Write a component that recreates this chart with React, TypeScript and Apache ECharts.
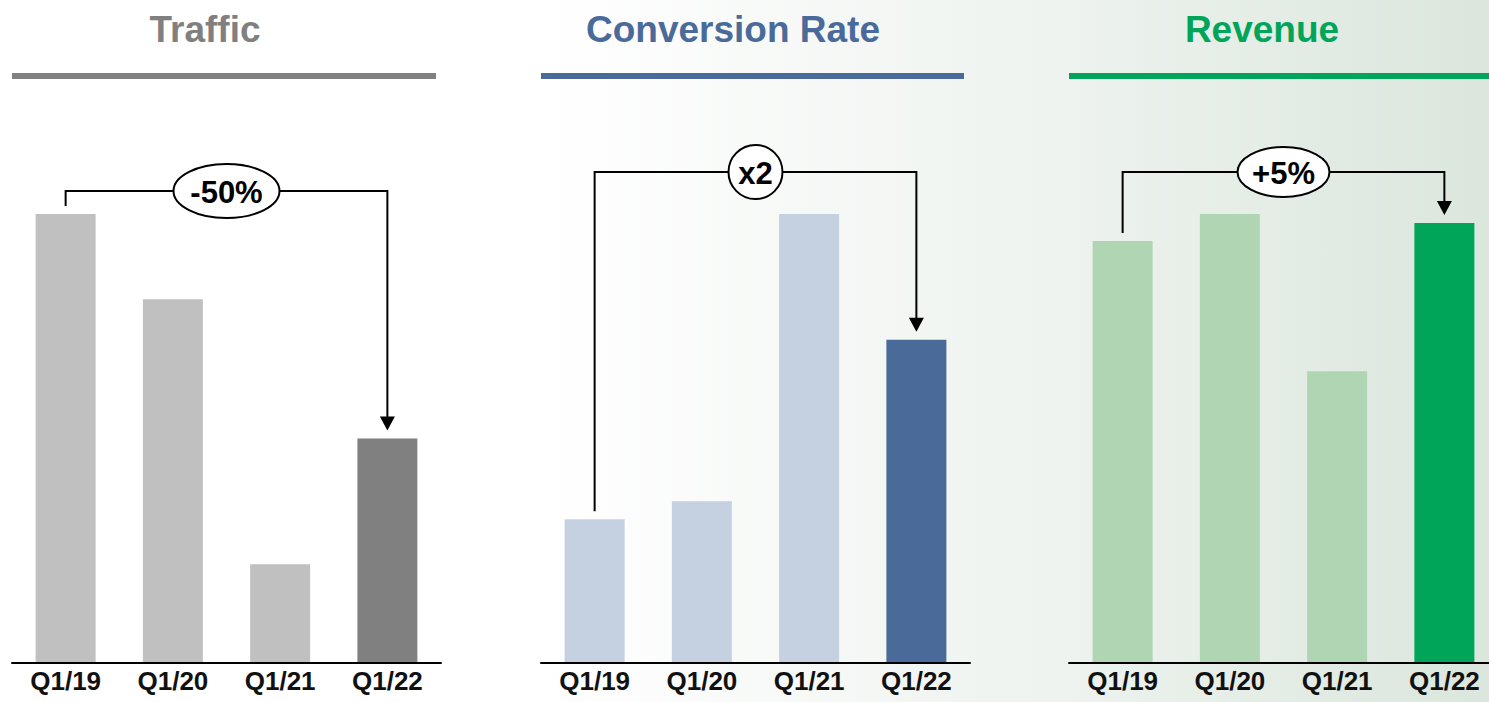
import React, { useEffect, useRef } from "react";
import * as echarts from "echarts";

// Quarter categories shared by all three panels
const quarters = ["Q1/19", "Q1/20", "Q1/21", "Q1/22"];

// Indexed values per panel (largest bar of each panel = 100)
const trafficValues = [100, 81, 22, 50];
const conversionValues = [32, 36, 100, 72];
const revenueValues = [94, 100, 65, 98];

const panelTitles = ["Traffic", "Conversion Rate", "Revenue"];
const changeLabels = ["-50%", "x2", "+5%"];

const FONT = "'Liberation Sans', Arial, Helvetica, sans-serif";

export default function App() {
  const ref = useRef<HTMLDivElement>(null);

  useEffect(() => {
    const el = ref.current;
    if (!el) return;
    const chart = echarts.init(el, null, { renderer: "svg" });

    const W = 1500;
    const H = 702;
    const gridTop = 214;
    const gridHeight = 449;
    const gridWidth = 429;

    const panels = [
      {
        title: panelTitles[0],
        values: trafficValues,
        base: "#c0c0c0",
        accent: "#808080",
        left: 12,
        ruleWidth: 424,
        titleX: 205,
        rise: 23,
        label: changeLabels[0],
        rx: 53,
        ry: 27,
      },
      {
        title: panelTitles[1],
        values: conversionValues,
        base: "#c5d0e1",
        accent: "#4a6b9a",
        left: 541,
        ruleWidth: 423,
        titleX: 733,
        rise: 42,
        label: changeLabels[1],
        rx: 27,
        ry: 27,
      },
      {
        title: panelTitles[2],
        values: revenueValues,
        base: "#b0d5b3",
        accent: "#00a55a",
        left: 1069,
        ruleWidth: 430,
        titleX: 1262,
        rise: 42,
        label: changeLabels[2],
        rx: 46,
        ry: 25,
      },
    ];

    const grid = panels.map((p) => ({
      left: p.left,
      top: gridTop,
      width: gridWidth,
      height: gridHeight,
      containLabel: false,
    }));

    const xAxis = panels.map((_, i) => ({
      type: "category",
      gridIndex: i,
      data: quarters,
      axisTick: { show: false },
      axisLine: { lineStyle: { color: "#000", width: 2 } },
      axisLabel: {
        color: "#111",
        fontFamily: FONT,
        fontWeight: "bold",
        fontSize: 26,
        margin: 5,
      },
      splitLine: { show: false },
      z: 5,
    }));

    const yAxis = panels.map((_, i) => ({
      type: "value",
      gridIndex: i,
      min: 0,
      max: 100,
      show: false,
      splitLine: { show: false },
    }));

    const series = panels.map((p, i) => ({
      type: "bar",
      xAxisIndex: i,
      yAxisIndex: i,
      barWidth: 60,
      data: p.values.map((v, j) => ({
        value: v,
        itemStyle: { color: j === p.values.length - 1 ? p.accent : p.base },
      })),
    }));

    chart.setOption({
      animation: false,
      backgroundColor: "#ffffff",
      grid,
      xAxis,
      yAxis,
      series,
    });

    const graphic: any[] = [];

    // soft white-to-green backdrop
    graphic.push({
      type: "rect",
      z: -10,
      silent: true,
      shape: { x: 0, y: 0, width: W, height: H },
      style: {
        fill: {
          type: "linear",
          x: 0,
          y: 0,
          x2: 1,
          y2: 0,
          colorStops: [
            { offset: 0, color: "#ffffff" },
            { offset: 0.36, color: "#ffffff" },
            { offset: 0.7, color: "#eef3ef" },
            { offset: 1, color: "#dae6dc" },
          ],
        },
      },
    });

    panels.forEach((p, i) => {
      // title and coloured rule
      graphic.push({
        type: "text",
        z: 10,
        x: p.titleX,
        y: 29,
        style: {
          text: p.title,
          fill: p.accent,
          font: `bold 37px ${FONT}`,
          align: "center",
          verticalAlign: "middle",
        },
      });
      graphic.push({
        type: "rect",
        z: 10,
        shape: { x: p.left, y: 73, width: p.ruleWidth, height: 6 },
        style: { fill: p.accent },
      });

      // bracket from first to last quarter
      const last = p.values.length - 1;
      const a = chart.convertToPixel({ gridIndex: i }, [0, p.values[0]]) as number[];
      const b = chart.convertToPixel({ gridIndex: i }, [last, p.values[last]]) as number[];
      const gap = 8;
      const headH = 14;
      const headW = 15;
      const level = gridTop - p.rise;
      const tipY = b[1] - gap;

      graphic.push({
        type: "polyline",
        z: 10,
        shape: {
          points: [
            [a[0], a[1] - gap],
            [a[0], level],
            [b[0], level],
            [b[0], tipY - headH + 1],
          ],
        },
        style: { stroke: "#000", lineWidth: 2, fill: "none", lineJoin: "miter" },
      });
      graphic.push({
        type: "polygon",
        z: 10,
        shape: {
          points: [
            [b[0] - headW / 2, tipY - headH],
            [b[0] + headW / 2, tipY - headH],
            [b[0], tipY],
          ],
        },
        style: { fill: "#000" },
      });

      const cx = (a[0] + b[0]) / 2;
      graphic.push({
        type: "ellipse",
        z: 11,
        shape: { cx, cy: level, rx: p.rx, ry: p.ry },
        style: { fill: "#ffffff", stroke: "#000", lineWidth: 2 },
      });
      graphic.push({
        type: "text",
        z: 12,
        x: cx,
        y: level + 1,
        style: {
          text: p.label,
          fill: "#000",
          font: `bold 31px ${FONT}`,
          align: "center",
          verticalAlign: "middle",
        },
      });
    });

    chart.setOption({ graphic });

    return () => {
      chart.dispose();
    };
  }, []);

  return (
    <div
      style={{
        position: "absolute",
        left: 0,
        top: 0,
        width: 1489,
        height: 702,
        overflow: "hidden",
      }}
    >
      <div ref={ref} style={{ width: 1500, height: 702 }} />
    </div>
  );
}
